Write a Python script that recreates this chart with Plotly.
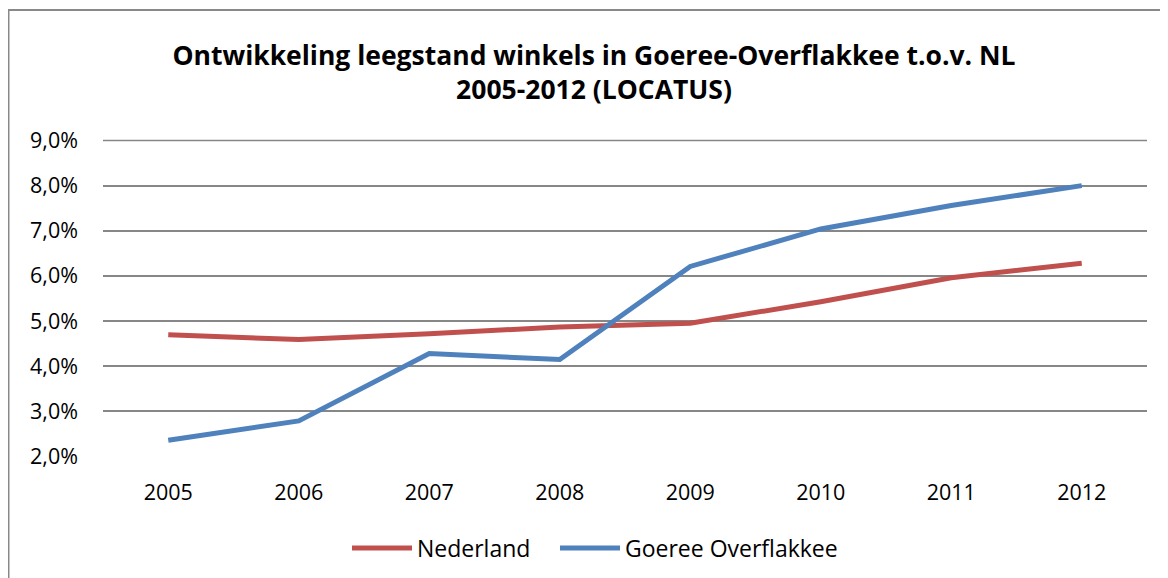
import plotly.graph_objects as go

years = ["2005", "2006", "2007", "2008", "2009", "2010", "2011", "2012"]
nederland = [4.70, 4.59, 4.72, 4.87, 4.95, 5.43, 5.96, 6.28]
goeree = [2.36, 2.79, 4.28, 4.15, 6.21, 7.04, 7.56, 8.00]
y_ticks = [2, 3, 4, 5, 6, 7, 8, 9]
y_labels = ["2,0%", "3,0%", "4,0%", "5,0%", "6,0%", "7,0%", "8,0%", "9,0%"]

FONT = "Open Sans"
OFF = 8  # page body margin
Y_RANGE = [1.99, 9.01]

fig = go.Figure()
fig.add_trace(go.Scatter(x=years, y=nederland, name="Nederland", mode="lines",
                         line=dict(color="#C0504D", width=5), legend="legend"))
fig.add_trace(go.Scatter(x=years, y=goeree, name="Goeree Overflakkee", mode="lines",
                         line=dict(color="#4F81BD", width=5), legend="legend2"))

W, H = 1168 - OFF, 578 - OFF
L, T = 103 - OFF, 140 - OFF
pw, ph = 1044, 317
R, B = W - L - pw, H - T - ph

def px(x):
    return (x - OFF - L) / pw

def py(y):
    return (H - B - (y - OFF)) / ph

top_grid = (y_ticks[-1] - Y_RANGE[0]) / (Y_RANGE[1] - Y_RANGE[0])

leg_common = dict(orientation="h", xanchor="left", yanchor="middle",
                  font=dict(size=23), itemwidth=60, bgcolor="rgba(0,0,0,0)")

fig.update_layout(
    width=W, height=H,
    margin=dict(l=L, r=R, t=T, b=B, autoexpand=False),
    paper_bgcolor="white", plot_bgcolor="white",
    font=dict(family=FONT, color="#000000"),
    title=dict(text="<b>Ontwikkeling leegstand winkels in Goeree-Overflakkee t.o.v. NL<br>2005-2012 (LOCATUS)</b>",
               x=(594 - OFF) / W, xanchor="center", y=1 - (64.5 - OFF) / H, yanchor="middle",
               font=dict(family=FONT, size=26.5, color="#000000")),
    xaxis=dict(type="category", range=[-0.5, 7.5], showgrid=False,
               showline=False, ticks="", tickfont=dict(size=21.5),
               ticklabelstandoff=20),
    yaxis=dict(range=Y_RANGE, tickvals=y_ticks, ticktext=y_labels,
               showgrid=True, gridcolor="#878787", gridwidth=1.5,
               zeroline=False, showline=False, ticks="",
               tickfont=dict(size=21.5), ticklabelstandoff=24),
    legend=dict(x=px(347), y=py(548), **leg_common),
    legend2=dict(x=px(555), y=py(548), **leg_common),
    showlegend=True,
    shapes=[
        dict(type="rect", xref="paper", yref="paper",
             x0=px(8.5), x1=px(1180), y0=py(10), y1=py(590),
             line=dict(color="#898989", width=2), layer="below"),
        dict(type="line", xref="paper", yref="paper", x0=0, x1=1,
             y0=top_grid, y1=top_grid,
             line=dict(color="#878787", width=1.5), layer="above"),
    ],
)

fig.write_html("out.html")
